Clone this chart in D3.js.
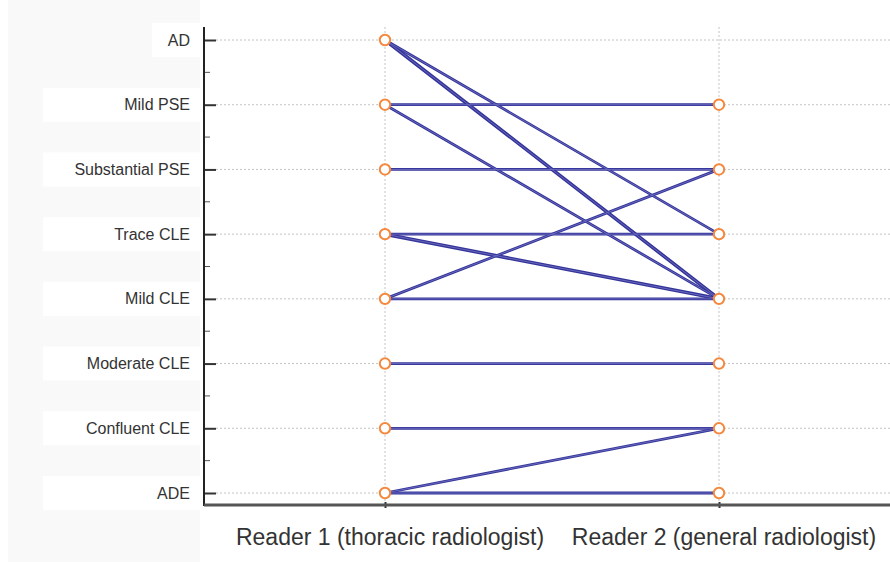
<!DOCTYPE html>
<html>
<head>
<meta charset="utf-8">
<script src="https://cdn.jsdelivr.net/npm/d3@7"></script>
<style>
  html, body { margin: 0; padding: 0; background: #fff; }
  svg { display: block; font-family: "Liberation Sans", Arial, sans-serif; }
</style>
</head>
<body>
<svg id="chart" width="890" height="562"></svg>
<script>
// Emphysema grades, top to bottom
const categories = ["AD", "Mild PSE", "Substantial PSE", "Trace CLE", "Mild CLE",
                    "Moderate CLE", "Confluent CLE", "ADE"];
const readers = ["Reader 1 (thoracic radiologist)", "Reader 2 (general radiologist)"];

// Grades assigned by each reader (points shown on each reader column)
const reader1Grades = ["AD", "Mild PSE", "Substantial PSE", "Trace CLE", "Mild CLE",
                       "Moderate CLE", "Confluent CLE", "ADE"];
const reader2Grades = ["Mild PSE", "Substantial PSE", "Trace CLE", "Mild CLE",
                       "Moderate CLE", "Confluent CLE", "ADE"];

// Paired readings: reader 1 grade -> reader 2 grade, with number of cases
const pairFrom  = ["AD", "AD", "Mild PSE", "Mild PSE", "Substantial PSE", "Trace CLE", "Trace CLE",
                   "Mild CLE", "Mild CLE", "Moderate CLE", "Confluent CLE", "ADE", "ADE"];
const pairTo    = ["Trace CLE", "Mild CLE", "Mild PSE", "Mild CLE", "Substantial PSE", "Trace CLE", "Mild CLE",
                   "Substantial PSE", "Mild CLE", "Moderate CLE", "Confluent CLE", "Confluent CLE", "ADE"];
const pairCount = [1, 2, 1, 1, 1, 1, 2, 1, 1, 1, 1, 1, 1];

const svg = d3.select("#chart");

const plotLeft = 204, plotRight = 890, plotTop = 27, plotBottom = 505;

const y = d3.scalePoint().domain(categories).range([40, 493]);
const x = d3.scalePoint().domain(readers).range([385, 719]);

// Label panel on the left
svg.append("rect").attr("x", 8).attr("y", 0).attr("width", 192).attr("height", 562)
  .attr("fill", "#f9f9f9");

const labelG = svg.append("g");
categories.forEach((c, i) => {
  const w = i === 0 ? 48 : 157;
  labelG.append("rect")
    .attr("x", 200 - w).attr("y", y(c) - 17)
    .attr("width", w).attr("height", 34)
    .attr("fill", "#fff");
});

// Horizontal dotted grid lines
svg.append("g").selectAll("line").data(categories).join("line")
  .attr("x1", plotLeft + 12).attr("x2", plotRight)
  .attr("y1", d => y(d)).attr("y2", d => y(d))
  .attr("stroke", "#c4c4c4").attr("stroke-width", 1).attr("stroke-dasharray", "2,2");

// Vertical dotted grid lines at each reader
svg.append("g").selectAll("line").data(readers).join("line")
  .attr("x1", d => x(d)).attr("x2", d => x(d))
  .attr("y1", plotTop).attr("y2", plotBottom)
  .attr("stroke", "#c4c4c4").attr("stroke-width", 1).attr("stroke-dasharray", "2,2");

// Y axis with ticks pointing inward
const yAxis = d3.axisRight(y).tickSize(12).tickFormat("");
const yAxisG = svg.append("g").attr("transform", `translate(${plotLeft},0)`).call(yAxis);
yAxisG.select(".domain").remove();
yAxisG.selectAll(".tick line").attr("stroke", "#333").attr("stroke-width", 2);

// Minor ticks between grades
const mids = d3.pairs(categories).map(([a, b]) => (y(a) + y(b)) / 2);
svg.append("g").selectAll("line").data(mids).join("line")
  .attr("x1", plotLeft).attr("x2", plotLeft + 6)
  .attr("y1", d => d).attr("y2", d => d)
  .attr("stroke", "#555").attr("stroke-width", 1);

svg.append("line")
  .attr("x1", plotLeft).attr("x2", plotLeft)
  .attr("y1", plotTop).attr("y2", plotBottom + 1)
  .attr("stroke", "#222").attr("stroke-width", 2);

// Y labels
labelG.selectAll("text").data(categories).join("text")
  .attr("x", 190).attr("y", d => y(d))
  .attr("dy", "0.35em")
  .attr("text-anchor", "end")
  .attr("font-size", 16)
  .attr("fill", "#333")
  .text(d => d);

// X axis
const xAxis = d3.axisBottom(x).tickSize(6).tickFormat("");
const xAxisG = svg.append("g").attr("transform", `translate(0,${plotBottom - 3})`).call(xAxis);
xAxisG.select(".domain").remove();
xAxisG.selectAll(".tick line").attr("stroke", "#333").attr("stroke-width", 2);

svg.append("line")
  .attr("x1", plotLeft).attr("x2", plotRight)
  .attr("y1", plotBottom).attr("y2", plotBottom)
  .attr("stroke", "#555").attr("stroke-width", 3);

svg.append("g").selectAll("text").data(readers).join("text")
  .attr("x", d => x(d) + 5).attr("y", 545)
  .attr("text-anchor", "middle")
  .attr("font-size", 23)
  .attr("fill", "#333")
  .text(d => d);

// Connecting lines between paired readings
const pairs = pairFrom.map((f, i) => ({ from: f, to: pairTo[i], n: pairCount[i] }));
const linkG = svg.append("g");
linkG.selectAll("line.outer").data(pairs).join("line")
  .attr("class", "outer")
  .attr("x1", x(readers[0])).attr("x2", x(readers[1]))
  .attr("y1", d => y(d.from)).attr("y2", d => y(d.to))
  .attr("stroke", "#34349a").attr("stroke-width", d => d.n > 1 ? 3.6 : 2.8)
  .attr("stroke-linecap", "round");
linkG.selectAll("line.inner").data(pairs).join("line")
  .attr("class", "inner")
  .attr("x1", x(readers[0])).attr("x2", x(readers[1]))
  .attr("y1", d => y(d.from)).attr("y2", d => y(d.to))
  .attr("stroke", "#7474c4").attr("stroke-width", 0.8);

// Points for each reader's grades
const pts = reader1Grades.map(g => ({ r: readers[0], g }))
  .concat(reader2Grades.map(g => ({ r: readers[1], g })));
svg.append("g").selectAll("circle").data(pts).join("circle")
  .attr("cx", d => x(d.r)).attr("cy", d => y(d.g))
  .attr("r", 5.2)
  .attr("fill", "#fff")
  .attr("stroke", "#f5883c")
  .attr("stroke-width", 2);
</script>
</body>
</html>
